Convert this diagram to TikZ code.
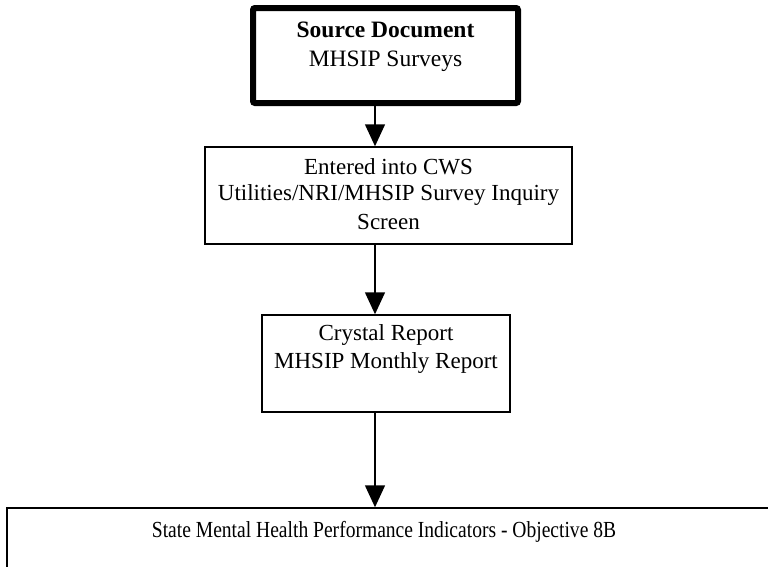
\documentclass[tikz,border=0pt]{standalone}
\usepackage{fontspec}
\setmainfont{Liberation Serif}
\usetikzlibrary{arrows.meta}
\begin{document}
\begin{tikzpicture}[x=1pt,y=-1pt,
  box/.style={draw=black, line width=1.5pt, minimum width=#1, inner sep=0pt},
  txt/.style={font=\fontsize{23}{28}\selectfont, inner sep=0pt, anchor=center},
  arr/.style={line width=1.5pt, -{Triangle[width=20pt,length=22pt]}}]
\useasboundingbox (0,0) rectangle (768,566);
% boxes
\node[draw=black, line width=6pt, rounded corners=2pt, minimum width=265pt, minimum height=95pt] (src) at (385.5,55.5) {};
\node[box=367pt, minimum height=97pt] (cws) at (388.5,195.5) {};
\node[box=248pt, minimum height=97pt] (cr) at (386,363.5) {};
\node[box=820pt, minimum height=120pt] (smh) at (417,568) {};
% texts
\node[txt, font=\fontsize{23.5}{28}\selectfont\bfseries] (t1a) at (385.5,30) {Source Document};
\node[txt, font=\fontsize{23.5}{28}\selectfont] (t1b) at (385.5,61) {MHSIP Surveys};
\node[txt] (t2a) at (388.5,167) {Entered into CWS};
\node[txt] (t2b) at (388.5,195) {Utilities/NRI/MHSIP Survey Inquiry};
\node[txt] (t2c) at (388.5,222) {Screen};
\node[txt] (t3a) at (386,335) {Crystal Report};
\node[txt] (t3b) at (386,363) {MHSIP Monthly Report};
\node[txt] (t4) at (384,532) {\scalebox{0.85}[1]{State Mental Health Performance Indicators - Objective 8B}};
% arrows
\coordinate (ax) at (375,0);
\draw[arr] ([yshift=3pt]src.south -| ax) -- (cws.north -| ax);
\draw[arr] (cws.south -| ax) -- (cr.north -| ax);
\draw[arr] (cr.south -| ax) -- (smh.north -| ax);
\end{tikzpicture}
\end{document}
